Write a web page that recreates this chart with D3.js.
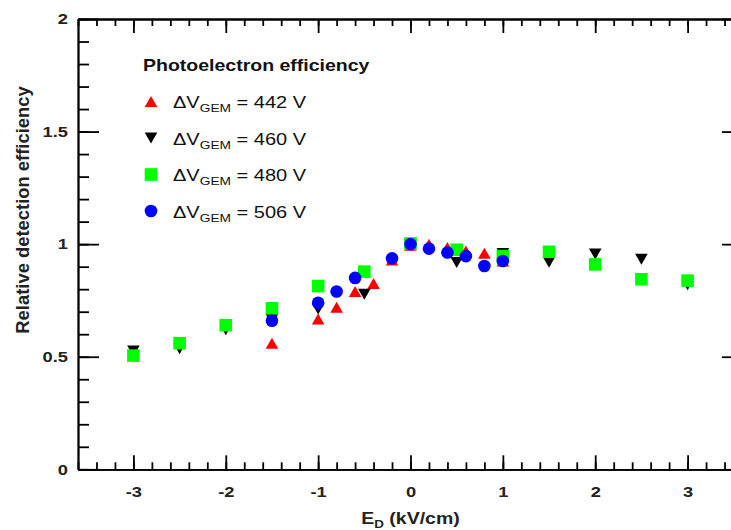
<!DOCTYPE html>
<html>
<head>
<meta charset="utf-8">
<script src="https://cdn.jsdelivr.net/npm/d3@7"></script>
<style>
  body { margin: 0; background: #fff; }
  svg { display: block; font-family: "Liberation Sans", Arial, sans-serif; }
</style>
</head>
<body>
<div id="chart"></div>
<script>
// E_D (kV/cm) and relative efficiency, one pair of arrays per GEM voltage
const ed442 = [-1.5, -1, -0.8, -0.6, -0.4, -0.2, 0, 0.2, 0.4, 0.6, 0.8, 1];
const eff442 = [0.56, 0.667, 0.72, 0.79, 0.825, 0.93, 0.995, 1.0, 0.985, 0.97, 0.96, 0.925];

const ed460 = [-3, -2.5, -2, -1.5, -1, -0.5, 0, 0.5, 1, 1.5, 2, 2.5, 3];
const eff460 = [0.525, 0.535, 0.62, 0.665, 0.712, 0.778, 1.0, 0.918, 0.958, 0.92, 0.956, 0.933, 0.82];

const ed480 = [-3, -2.5, -2, -1.5, -1, -0.5, 0, 0.5, 1, 1.5, 2, 2.5, 3];
const eff480 = [0.505, 0.56, 0.64, 0.715, 0.814, 0.878, 1.003, 0.975, 0.947, 0.966, 0.91, 0.844, 0.838];

const ed506 = [-1.5, -1, -0.8, -0.6, -0.2, 0, 0.2, 0.4, 0.6, 0.8, 1];
const eff506 = [0.66, 0.74, 0.79, 0.85, 0.937, 1.0, 0.98, 0.963, 0.947, 0.903, 0.925];

const voltages = ["442", "460", "480", "506"];
const colors = ["#ff0000", "#000000", "#00ff00", "#0000ff"];
const shapes = ["up", "down", "square", "circle"];

const xTicks = [-3, -2, -1, 0, 1, 2, 3];
const yTicks = [0, 0.5, 1, 1.5, 2];

const width = 731,
  height = 530,
  plot = { left: 78, right: 743, top: 19, bottom: 469.3 },
  sx = 1.22; // text in the source is stretched sideways

const series = voltages.map((v, i) => ({
  v,
  color: colors[i],
  shape: shapes[i],
  pts: d3.zip([ed442, ed460, ed480, ed506][i], [eff442, eff460, eff480, eff506][i])
}));

const x = d3.scaleLinear().domain([-3.6, 3.6]).range([plot.left, plot.right]);
const y = d3.scaleLinear().domain([0, 2]).range([plot.bottom, plot.top]);

function markerPath(shape) {
  const p = d3.path();
  if (shape === "up") {
    p.moveTo(0, -5.5); p.lineTo(6.3, 5.5); p.lineTo(-6.3, 5.5); p.closePath();
  } else if (shape === "down") {
    p.moveTo(0, 5.5); p.lineTo(6.3, -5.5); p.lineTo(-6.3, -5.5); p.closePath();
  } else if (shape === "square") {
    p.rect(-6.3, -6.3, 12.6, 12.6);
  } else {
    p.arc(0, 0, 6.3, 0, 2 * Math.PI);
  }
  return p.toString();
}

const svg = d3.select("#chart").append("svg")
  .attr("width", width)
  .attr("height", height);

svg.append("rect").attr("width", width).attr("height", height).attr("fill", "#fff");

// minor ticks first, majors on top
const xMinor = d3.range(-3.6, 3.61, 0.2).map(d => +d.toFixed(1));
const yMinor = d3.range(0, 2.01, 0.1).map(d => +d.toFixed(1));

function styleAxis(g) {
  g.selectAll("path, line").attr("stroke", "#000").attr("stroke-width", 1.8);
}

svg.append("g").attr("transform", `translate(0,${plot.bottom})`)
  .call(d3.axisBottom(x).tickValues(xMinor).tickSizeInner(-7).tickSizeOuter(0).tickFormat(""))
  .call(styleAxis);
svg.append("g").attr("transform", `translate(0,${plot.top})`)
  .call(d3.axisTop(x).tickValues(xMinor).tickSizeInner(-7).tickSizeOuter(0).tickFormat(""))
  .call(styleAxis);
svg.append("g").attr("transform", `translate(${plot.left},0)`)
  .call(d3.axisLeft(y).tickValues(yMinor).tickSizeInner(-11).tickSizeOuter(0).tickFormat(""))
  .call(styleAxis);
svg.append("g").attr("transform", `translate(${plot.right},0)`)
  .call(d3.axisRight(y).tickValues(yMinor).tickSizeInner(-11).tickSizeOuter(0).tickFormat(""))
  .call(styleAxis);

const xAxis = svg.append("g").attr("transform", `translate(0,${plot.bottom})`)
  .call(d3.axisBottom(x).tickValues(xTicks).tickSizeInner(-14).tickSizeOuter(0)
    .tickPadding(17).tickFormat(d => String(d)))
  .call(styleAxis);
svg.append("g").attr("transform", `translate(0,${plot.top})`)
  .call(d3.axisTop(x).tickValues(xTicks).tickSizeInner(-14).tickSizeOuter(0).tickFormat(""))
  .call(styleAxis);
const yAxis = svg.append("g").attr("transform", `translate(${plot.left},0)`)
  .call(d3.axisLeft(y).tickValues(yTicks).tickSizeInner(-21).tickSizeOuter(0).tickFormat(d => String(d)))
  .call(styleAxis);
svg.append("g").attr("transform", `translate(${plot.right},0)`)
  .call(d3.axisRight(y).tickValues(yTicks).tickSizeInner(-21).tickSizeOuter(0).tickFormat(""))
  .call(styleAxis);

svg.selectAll("g.tick text")
  .attr("font-family", "Liberation Sans, Arial, sans-serif")
  .attr("font-size", 15)
  .attr("font-weight", "bold")
  .attr("fill", "#222");
xAxis.selectAll("text").attr("transform", `scale(${sx},1)`);
yAxis.selectAll("text").attr("x", 0).attr("transform", `translate(-10,0) scale(${sx},1)`);

// data points: red, black, green, blue (blue ends up on top)
series.forEach(s => {
  svg.append("g").selectAll("path")
    .data(s.pts)
    .join("path")
    .attr("transform", d => `translate(${x(d[0])},${y(d[1])})`)
    .attr("d", markerPath(s.shape))
    .attr("fill", s.color);
});

// axis titles
const xt = svg.append("text")
  .attr("transform", `translate(${x(0)},524) scale(${sx},1)`)
  .attr("text-anchor", "middle")
  .attr("font-size", 16)
  .attr("font-weight", "bold")
  .attr("fill", "#222");
xt.append("tspan").text("E");
xt.append("tspan").attr("font-size", 11).attr("dy", 4).text("D");
xt.append("tspan").attr("dy", -4).text(" (kV/cm)");

svg.append("text")
  .attr("transform", `translate(29,210) rotate(-90) scale(1.15,1.2)`)
  .attr("text-anchor", "middle")
  .attr("font-size", 16)
  .attr("font-weight", "bold")
  .attr("fill", "#222")
  .text("Relative detection efficiency");

// legend
const legend = svg.append("g");
legend.append("text")
  .attr("transform", `translate(143,70.5) scale(${sx},1)`)
  .attr("font-size", 16)
  .attr("font-weight", "bold")
  .attr("fill", "#111")
  .text("Photoelectron efficiency");

const items = legend.selectAll("g.item")
  .data(series)
  .join("g")
  .attr("class", "item")
  .attr("transform", (d, i) => `translate(151,${101.5 + i * 36.5})`);

items.append("path")
  .attr("d", d => markerPath(d.shape))
  .attr("fill", d => d.color);

const lt = items.append("text")
  .attr("transform", `translate(22,6.5) scale(${sx + 0.03},1)`)
  .attr("font-size", 16)
  .attr("fill", "#111");
lt.append("tspan").text("\u0394V");
lt.append("tspan").attr("font-size", 11).attr("dy", 4).text("GEM");
lt.append("tspan").attr("dy", -4).text(d => ` = ${d.v} V`);
</script>
</body>
</html>
